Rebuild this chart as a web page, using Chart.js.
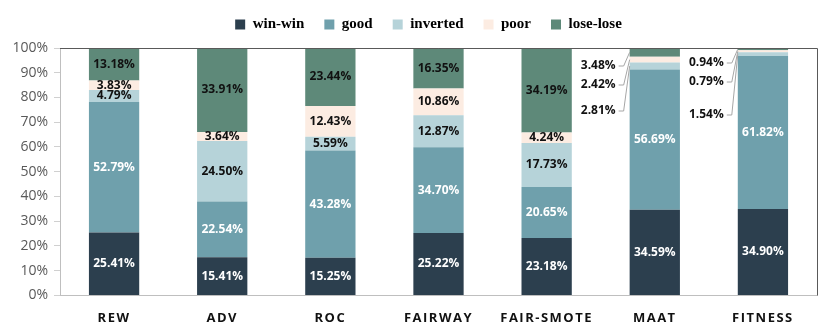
<!DOCTYPE html>
<html>
<head>
<meta charset="utf-8">
<script src="https://cdn.jsdelivr.net/npm/chart.js@4.4.1/dist/chart.umd.min.js"></script>
<style>
  html, body { margin: 0; padding: 0; background: #fff; }
  #wrap { width: 830px; height: 333px; }
</style>
</head>
<body>
<div id="wrap"><canvas id="grafico"></canvas></div>
<script>
// Datos (porcentajes)
const categorias = ['REW', 'ADV', 'ROC', 'FAIRWAY', 'FAIR-SMOTE', 'MAAT', 'FITNESS'];
const winWin   = [25.41, 15.41, 15.25, 25.22, 23.18, 34.59, 34.90];
const good     = [52.79, 22.54, 43.28, 34.70, 20.65, 56.69, 61.82];
const inverted = [4.79, 24.50, 5.59, 12.87, 17.73, 2.81, 1.54];
const poor     = [3.83, 3.64, 12.43, 10.86, 4.24, 2.42, 0.79];
const loseLose = [13.18, 33.91, 23.44, 16.35, 34.19, 3.48, 0.94];
const ticksY   = [0, 10, 20, 30, 40, 50, 60, 70, 80, 90, 100];

// Etiquetas fuera de la barra (MAAT y FITNESS): desplazamiento en px desde el borde superior
const llamadas = {
  5: { 4: 18, 3: 37, 2: 63 },
  6: { 4: 15, 3: 34, 2: 67 },
};

// Etiquetas de valores dentro de cada segmento
const etiquetasPlugin = {
  id: 'etiquetas',
  afterDatasetsDraw(chart) {
    const ctx = chart.ctx;
    const area = chart.chartArea;
    ctx.save();
    ctx.font = 'bold 12px "Open Sans"';
    ctx.textBaseline = 'middle';
    chart.data.datasets.forEach((ds, i) => {
      const meta = chart.getDatasetMeta(i);
      meta.data.forEach((bar, j) => {
        const valor = ds.data[j];
        const texto = valor.toFixed(2) + '%';
        const medio = (bar.y + bar.base) / 2;
        if (llamadas[j] && llamadas[j][i] !== undefined) {
          const izq = bar.x - bar.width / 2;
          const y = area.top + llamadas[j][i];
          const xTexto = izq - 14;
          ctx.fillStyle = '#111';
          ctx.textAlign = 'right';
          ctx.fillText(texto, xTexto, y);
          ctx.strokeStyle = '#a6a6a6';
          ctx.lineWidth = 1;
          ctx.beginPath();
          ctx.moveTo(xTexto + 3, y);
          ctx.lineTo(xTexto + 8, y);
          ctx.lineTo(izq, medio);
          ctx.stroke();
          return;
        }
        ctx.fillStyle = i < 2 ? '#ffffff' : '#111';
        ctx.textAlign = 'center';
        ctx.fillText(texto, bar.x, medio);
      });
    });
    ctx.restore();
  },
};

// Marco del área de dibujo, posición de la leyenda y espaciado de letras del eje X
const marcoPlugin = {
  id: 'marco',
  afterLayout(chart) {
    const l = chart.legend;
    if (l) {
      l.left += 20;
      l.right += 20;
      l.top -= 6;
      l.bottom -= 6;
    }
  },
  afterDraw(chart) {
    const { ctx, chartArea: a } = chart;
    ctx.save();
    ctx.lineWidth = 1;
    ctx.strokeStyle = '#595959';
    ctx.beginPath();
    ctx.moveTo(a.left, a.top + 0.5);
    ctx.lineTo(a.right + 0.5, a.top + 0.5);
    ctx.lineTo(a.right + 0.5, a.bottom);
    ctx.stroke();
    ctx.restore();
  },
  afterUpdate(chart) {
    const s = chart.scales.x;
    if (s && !s._espaciado) {
      const orig = s.drawLabels;
      s.drawLabels = function (area) {
        this.ctx.save();
        this.ctx.letterSpacing = '1.5px';
        orig.call(this, area);
        this.ctx.restore();
      };
      s._espaciado = true;
    }
  },
};

const ctxGrafico = document.getElementById('grafico').getContext('2d');
new Chart(ctxGrafico, {
  type: 'bar',
  data: {
    labels: categorias,
    datasets: [
      { label: 'win-win', data: winWin, backgroundColor: '#2c3f4e' },
      { label: 'good', data: good, backgroundColor: '#6fa0ac' },
      { label: 'inverted', data: inverted, backgroundColor: '#b6d3d9' },
      { label: 'poor', data: poor, backgroundColor: '#fcece2' },
      { label: 'lose-lose', data: loseLose, backgroundColor: '#5e8979' },
    ],
  },
  options: {
    responsive: true,
    maintainAspectRatio: false,
    animation: false,
    datasets: {
      bar: { categoryPercentage: 1, barPercentage: 0.465, borderWidth: 0 },
    },
    layout: { padding: { left: 0, right: 13, top: 3, bottom: 0 } },
    plugins: {
      legend: {
        display: true,
        position: 'top',
        labels: {
          boxWidth: 10,
          boxHeight: 10,
          padding: 20,
          color: '#000',
          font: { family: '"Liberation Serif"', size: 15, weight: 'bold' },
        },
      },
      tooltip: { enabled: false },
    },
    scales: {
      x: {
        stacked: true,
        grid: { display: false },
        border: { color: '#bfbfbf' },
        ticks: {
          color: '#111',
          padding: 7,
          font: { family: '"Open Sans"', size: 13, weight: 'bold' },
        },
      },
      y: {
        stacked: true,
        min: 0,
        max: 100,
        afterBuildTicks: (scale) => {
          scale.ticks = ticksY.map((v) => ({ value: v }));
        },
        afterFit: (scale) => { scale.width = 60; },
        grid: { drawOnChartArea: false, drawTicks: true, tickLength: 6, color: '#d0d0d0' },
        border: { color: '#bfbfbf' },
        ticks: {
          color: '#595959',
          padding: 6,
          font: { family: '"Open Sans"', size: 14 },
          callback: (v) => v + '%',
        },
      },
    },
  },
  plugins: [etiquetasPlugin, marcoPlugin],
});
</script>
</body>
</html>
